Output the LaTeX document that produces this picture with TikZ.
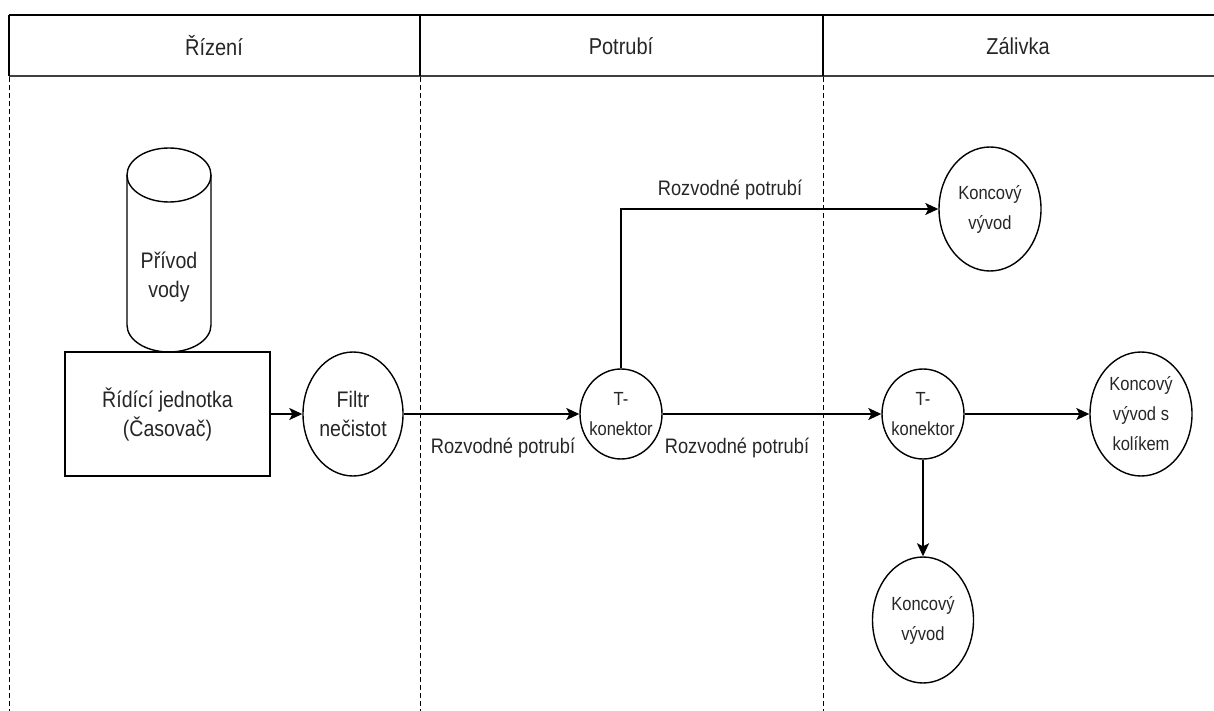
\documentclass[tikz,border=0pt]{standalone}
\usepackage{fontspec}
\setmainfont{Liberation Sans}[FakeStretch=0.87]
\usetikzlibrary{arrows.meta,shapes.geometric}
\begin{document}
\begin{tikzpicture}[x=1pt,y=-1pt,
  txt/.style={text=black!85, align=center, inner sep=0pt},
  big/.style={txt, font=\fontsize{22.5}{29}\selectfont},
  head/.style={txt, font=\fontsize{23}{28}\selectfont},
  small/.style={txt, font=\fontsize{19}{30}\selectfont},
  pipe/.style={txt, font=\fontsize{21}{25}\selectfont},
  blob/.style={draw, ellipse, line width=1.4pt, inner sep=0pt},
  flow/.style={line width=1.6pt, -{Stealth[length=13pt,width=12pt,inset=3pt]}},
  lane/.style={line width=1pt, dash pattern=on 5pt off 3pt},
]
\useasboundingbox (0,0) rectangle (1214,711);

% header band with the three lane titles
\draw[line width=2pt] (9,15) -- (1214,15);
\draw[line width=2.6pt, black!75] (9,76) -- (1214,76);
\draw[line width=1.6pt] (9,15) -- (9,76);
\draw[line width=1.4pt] (420,15) -- (420,76);
\draw[line width=1.4pt] (823,15) -- (823,76);
\node[head] (h1) at (214,46) {Řízení};
\node[head] (h2) at (621,46) {Potrubí};
\node[head] (h3) at (1018,46) {Zálivka};

% lane separators
\draw[lane] (9,77) -- (9,711);
\draw[lane] (420,77) -- (420,711);
\draw[lane] (823,77) -- (823,711);

% water supply drawn as a cylinder
\node[big] (supply) at (169,277) {Přívod\\vody};
\draw[line width=1.4pt] (127,175) -- (127,325)
  arc[start angle=180, end angle=360, x radius=42pt, y radius=27pt] -- (211,175);
\draw[line width=1.4pt] (169,175) ellipse[x radius=42pt, y radius=27pt];

% control unit and filter
\node[big, draw, line width=1.4pt, minimum width=205pt, minimum height=124pt]
  (ctrl) at (167.5,414) {Řídící jednotka\\(Časovač)};
\node[blob, minimum width=100pt, minimum height=124pt,
  label={[big]center:Filtr\\nečistot}] (filter) at (353,414) {};

% tee connectors
\node[blob, minimum width=82pt, minimum height=90pt,
  label={[small]center:T-\\konektor}] (t1) at (621,414) {};
\node[blob, minimum width=82pt, minimum height=90pt,
  label={[small]center:T-\\konektor}] (t2) at (923,414) {};

% outlets
\node[blob, minimum width=102pt, minimum height=124pt,
  label={[small]center:Koncový\\vývod}] (kv1) at (990,209) {};
\node[blob, minimum width=102pt, minimum height=124pt,
  label={[small]center:Koncový\\vývod s\\kolíkem}] (kv2) at (1141,414) {};
\node[blob, minimum width=101pt, minimum height=126pt,
  label={[small]center:Koncový\\vývod}] (kv3) at (923,620) {};

% pipes
\draw[flow] (ctrl) -- (filter);
\draw[flow] (filter) -- (t1);
\draw[flow] (t1) -- (t2);
\draw[flow] (t1.north) |- (kv1.west);
\draw[flow] (t2) -- (kv2);
\draw[flow] (t2) -- (kv3);

\node[pipe] (p1) at (503,448) {Rozvodné potrubí};
\node[pipe] (p2) at (737,448) {Rozvodné potrubí};
\node[pipe] (p3) at (730,190) {Rozvodné potrubí};
\end{tikzpicture}
\end{document}
